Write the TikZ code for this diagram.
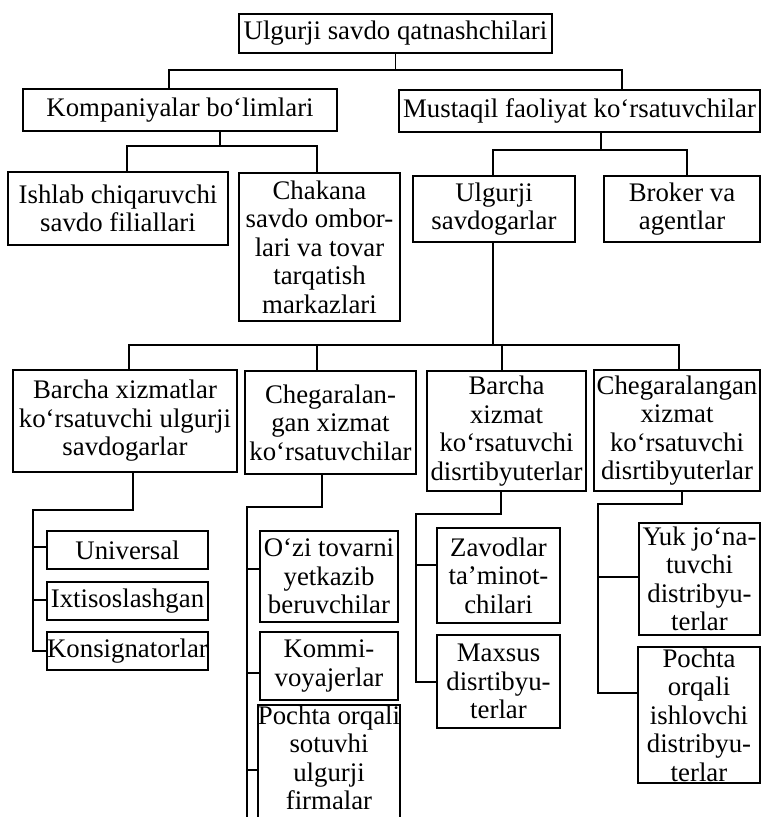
\documentclass[tikz,border=0pt]{standalone}
\usepackage{fontspec}
\setmainfont{Liberation Serif}
\begin{document}
\begin{tikzpicture}[x=1pt,y=-1pt,
  boxtext/.style={align=center, inner sep=0pt,
    font=\fontsize{26.8}{28.5}\selectfont},
  box/.style={boxtext, draw, line width=1.8pt},
  conn/.style={line width=1.8pt}]
\useasboundingbox (0,0) rectangle (761,817);
\clip (0,0) rectangle (761,817);
% level 1
\node[box, minimum width=313pt, minimum height=39pt] (top) at (395.5,33.5) {Ulgurji savdo qatnashchilari};
% level 2
\node[box, minimum width=314pt, minimum height=42pt] (komp) at (180,110) {Kompaniyalar bo‘limlari};
\node[box, minimum width=361pt, minimum height=42pt] (must) at (579.5,111) {Mustaqil faoliyat ko‘rsatuvchilar};
% level 3
\node[box, minimum width=220pt, minimum height=73pt] (ishlab) at (118,208.5) {Ishlab chiqaruvchi\\savdo filiallari};
\node[box, minimum width=161pt, minimum height=148pt] (chakana) at (319.5,247) {Chakana\\savdo ombor-\\lari va tovar\\tarqatish\\markazlari};
\node[box, minimum width=162pt, minimum height=66pt] (ulg) at (494,209) {Ulgurji\\savdogarlar};
\node[box, minimum width=156pt, minimum height=66pt] (broker) at (682,209) {Broker va\\agentlar};
% level 4
\node[box, minimum width=224pt, minimum height=102pt] (A) at (125,421) {Barcha xizmatlar\\ko‘rsatuvchi ulgurji\\savdogarlar};
\node[box, minimum width=171pt, minimum height=103pt] (B) at (330.5,422.5) {Chegaralan-\\gan xizmat\\ko‘rsatuvchilar};
\node[box, minimum width=159pt, minimum height=120pt] (C) at (506.5,431) {Barcha\\xizmat\\ko‘rsatuvchi\\disrtibyuterlar};
\node[box, minimum width=166pt, minimum height=121pt] (D) at (677,430.5) {Chegaralangan\\xizmat\\ko‘rsatuvchi\\disrtibyuterlar};
% level 5
\node[box, minimum width=161pt, minimum height=38pt] (univ) at (127.5,550) {Universal};
\node[box, minimum width=161pt, minimum height=38pt] (ixt) at (127.5,601) {Ixtisoslashgan};
\node[box, minimum width=161pt, minimum height=38pt] (kons) at (127.5,651) {Konsignatorlar};
\node[box, minimum width=138pt, minimum height=91pt] (ozi) at (329,576.5) {O‘zi tovarni\\yetkazib\\beruvchilar};
\node[box, minimum width=138pt, minimum height=68pt] (kommi) at (329,666) {Kommi-\\voyajerlar};
\node[boxtext, minimum width=138pt, minimum height=106pt] (pochtaA) at (329,758) {Pochta orqali\\sotuvhi\\ulgurji\\firmalar};
\draw[line width=1.8pt] ([yshift=-8pt]pochtaA.south west) -- (pochtaA.north west) -- (pochtaA.north east) -- ([yshift=-8pt]pochtaA.south east);
\node[box, minimum width=123pt, minimum height=95pt] (zav) at (498.5,575.5) {Zavodlar\\ta’minot-\\chilari};
\node[box, minimum width=123pt, minimum height=93pt] (maxsus) at (498.5,681.5) {Maxsus\\disrtibyu-\\terlar};
\node[box, minimum width=121pt, minimum height=112pt] (yuk) at (699.5,579) {Yuk jo‘na-\\tuvchi\\distribyu-\\terlar};
\node[box, minimum width=122pt, minimum height=136pt] (pochtaB) at (699,715) {Pochta\\orqali\\ishlovchi\\distribyu-\\terlar};
% connectors level 1 -> 2
\draw[conn] (top.south) -- (top.south |- 0,70);
\draw[conn] (komp.north -| 169,0) -- (169,70) -- (622,70) -- (must.north -| 622,0);
% komp -> level 3
\draw[conn] (komp.south -| 220,0) -- (220,146);
\draw[conn] (ishlab.north -| 127,0) -- (127,146) -- (317,146) -- (chakana.north -| 317,0);
% must -> level 3
\draw[conn] (must.south -| 601,0) -- (601,150);
\draw[conn] (ulg.north -| 493,0) -- (493,150) -- (687,150) -- (broker.north -| 687,0);
% ulg -> level 4
\draw[conn] (ulg.south -| 493,0) -- (493,345);
\draw[conn] (A.north -| 129,0) -- (129,345) -- (679,345) -- (D.north -| 679,0);
\draw[conn] (B.north -| 317,0) -- (317,345);
\draw[conn] (C.north -| 502,0) -- (502,345);
% A -> level 5
\draw[conn] (A.south -| 133,0) -- (133,510) -- (33,510) -- (33,651) -- (kons.west |- 0,651);
\draw[conn] (33,547) -- (univ.west |- 0,547);
\draw[conn] (33,600) -- (ixt.west |- 0,600);
% B -> level 5
\draw[conn] (B.south -| 322,0) -- (322,507) -- (247,507) -- (247,817);
\draw[conn] (247,569) -- (ozi.west |- 0,569);
\draw[conn] (247,673) -- (kommi.west |- 0,673);
\draw[conn] (247,770) -- (pochtaA.west |- 0,770);
% C -> level 5
\draw[conn] (C.south -| 501,0) -- (501,514) -- (416,514) -- (416,682) -- (maxsus.west |- 0,682);
\draw[conn] (416,565) -- (zav.west |- 0,565);
% D -> level 5
\draw[conn] (D.south -| 682,0) -- (682,504) -- (598,504) -- (598,693) -- (pochtaB.west |- 0,693);
\draw[conn] (598,577) -- (yuk.west |- 0,577);
\end{tikzpicture}
\end{document}
